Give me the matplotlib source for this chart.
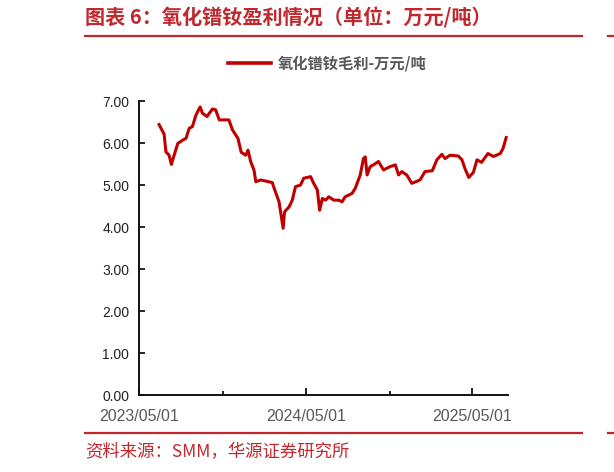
import numpy as np
import pandas as pd
import matplotlib
matplotlib.use("Agg")
import matplotlib.pyplot as plt
import matplotlib.dates as mdates
from matplotlib.lines import Line2D

plt.rcParams['font.family'] = ['Noto Sans CJK SC', 'DejaVu Sans']

# 氧化镨钕毛利（万元/吨）
dates = ['2023-06-14', '2023-06-25', '2023-06-29', '2023-07-06', '2023-07-11', '2023-07-17',
         '2023-07-25', '2023-08-05', '2023-08-12', '2023-08-19', '2023-08-26', '2023-09-03',
         '2023-09-12', '2023-09-17', '2023-09-27', '2023-10-09', '2023-10-16', '2023-10-24',
         '2023-11-14', '2023-11-22', '2023-12-04', '2023-12-11', '2023-12-21', '2023-12-26',
         '2024-01-01', '2024-01-08', '2024-01-12', '2024-01-23', '2024-02-17', '2024-02-24',
         '2024-03-03', '2024-03-12', '2024-03-15', '2024-03-25', '2024-04-01', '2024-04-08',
         '2024-04-19', '2024-04-26', '2024-05-11', '2024-05-18', '2024-05-26', '2024-05-31',
         '2024-06-06', '2024-06-13', '2024-06-20', '2024-07-01', '2024-07-12', '2024-07-19',
         '2024-07-26', '2024-08-10', '2024-08-17', '2024-08-28', '2024-09-04', '2024-09-08',
         '2024-09-12', '2024-09-19', '2024-09-26', '2024-10-07', '2024-10-18', '2024-11-02',
         '2024-11-13', '2024-11-20', '2024-11-27', '2024-12-08', '2024-12-19', '2025-01-06',
         '2025-01-17', '2025-02-02', '2025-02-12', '2025-02-23', '2025-03-02', '2025-03-13',
         '2025-03-31', '2025-04-08', '2025-04-15', '2025-04-23', '2025-05-03', '2025-05-11',
         '2025-05-21', '2025-06-04', '2025-06-16', '2025-07-01', '2025-07-07', '2025-07-14']
margin = [6.44, 6.21, 5.79, 5.71, 5.49, 5.71,
          5.99, 6.07, 6.11, 6.35, 6.39, 6.67,
          6.86, 6.71, 6.63, 6.81, 6.79, 6.55,
          6.55, 6.31, 6.11, 5.78, 5.71, 5.83,
          5.55, 5.36, 5.08, 5.12, 5.06, 4.84,
          4.60, 3.97, 4.36, 4.48, 4.64, 4.96,
          5.00, 5.16, 5.20, 5.04, 4.88, 4.40,
          4.68, 4.64, 4.72, 4.64, 4.64, 4.60,
          4.72, 4.80, 4.92, 5.24, 5.63, 5.67,
          5.24, 5.44, 5.48, 5.56, 5.36, 5.44,
          5.48, 5.24, 5.32, 5.24, 5.04, 5.12,
          5.32, 5.34, 5.60, 5.73, 5.63, 5.71,
          5.69, 5.60, 5.38, 5.18, 5.30, 5.60,
          5.54, 5.75, 5.68, 5.75, 5.87, 6.13]

yticks = [0, 1, 2, 3, 4, 5, 6, 7]
xlabels = ['2023-05-01', '2024-05-01', '2025-05-01']
xminor = ['2023-11-01', '2024-11-01']

red = '#C00000'
title_red = '#C0282D'

fig = plt.figure(figsize=(6.14, 4.72), dpi=100)
ax = fig.add_axes([0.2264, 0.163, 0.601, 0.623])

x = pd.to_datetime(dates)
ax.plot(x, margin, color=red, linewidth=2.2, label='氧化镨钕毛利-万元/吨', solid_joinstyle='round')

ax.set_ylim(0, 7)
ax.set_yticks(yticks)
ax.set_yticklabels(['%.2f' % v for v in yticks], family='Liberation Sans', fontsize=10, color='#222222')

ax.set_xlim(pd.Timestamp('2023-05-01'), pd.Timestamp('2025-07-18'))
ax.set_xticks(pd.to_datetime(xlabels))
ax.set_xticklabels([d.replace('-', '/') for d in xlabels], family='Liberation Sans', fontsize=11.5, color='#595959')
ax.set_xticks(pd.to_datetime(xminor), minor=True)

for s in ['top', 'right']:
    ax.spines[s].set_visible(False)
for s in ['left', 'bottom']:
    ax.spines[s].set_linewidth(1.4)
    ax.spines[s].set_color('#111111')

ax.tick_params(axis='y', direction='in', length=4, width=1.2, pad=7)
ax.tick_params(axis='x', which='major', direction='in', length=5, width=1.2, pad=10)
ax.tick_params(axis='x', which='minor', direction='in', length=3, width=1.2)

leg = fig.legend(loc='center', bbox_to_anchor=(0.533, 0.8665), frameon=False,
                 handlelength=2.8, handletextpad=0.4,
                 prop={'family': ['Noto Sans CJK SC', 'DejaVu Sans'], 'weight': 'bold', 'size': 11})
for t in leg.get_texts():
    t.set_color('#595959')
for h in leg.get_lines():
    h.set_linewidth(2.6)

# 标题与来源
fig.text(85 / 614, 1 - 18 / 472, '图表 6：氧化镨钕盈利情况（单位：万元/吨）', fontsize=14.5,
         fontweight='bold', color=title_red, ha='left', va='center')
fig.add_artist(Line2D([85 / 614, 582 / 614], [1 - 35.5 / 472] * 2, color=title_red, linewidth=1.6))
fig.add_artist(Line2D([85 / 614, 582 / 614], [1 - 433 / 472] * 2, color=title_red, linewidth=1.6))
fig.add_artist(Line2D([608 / 614, 1.0], [1 - 35.5 / 472] * 2, color=title_red, linewidth=1.6))
fig.add_artist(Line2D([608 / 614, 1.0], [1 - 433 / 472] * 2, color=title_red, linewidth=1.6))
fig.text(85 / 614, 1 - 452 / 472, '资料来源：SMM，华源证券研究所', fontsize=12.5,
         color=title_red, ha='left', va='center')

fig.savefig('out.png', dpi=100)
